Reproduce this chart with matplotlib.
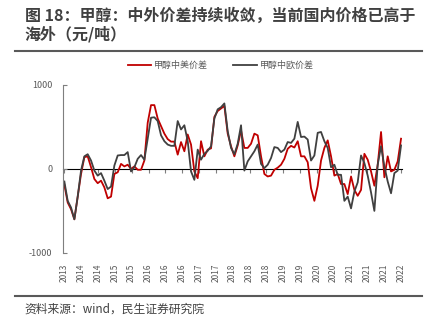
import numpy as np
import matplotlib.pyplot as plt
from matplotlib.lines import Line2D

plt.rcParams['font.family'] = ['Noto Sans CJK SC', 'DejaVu Sans']

## data (元/吨)
us_spread = [
    -190, -400, -480, -600, -330, -60, 140, 150, 20, -120,
    -170, -140, -220, -350, -330, -60, -40, 60, 30, 50,
    0, 30, -10, -10, 100, 550, 760, 760, 600, 510,
    420, 355, 325, 325, 170, 320, 210, 410, 290, -30,
    -110, 330, 150, 230, 245,
    620, 690, 720, 750, 420, 270, 150, 280, 460, 250,
    250, 300, 420, 400, 150, -60, -90, -80, -10, 15,
    50, 120, 240, 275, 255, 330, 150, 150, 80, -230,
    -380, -200, 100, 250, 340, 150, -80, -60, -180, -180,
    -300, -90, -250, -320, -250, 180, 110, -30, -200, 50,
    440, -100, 150, -30, -10, 90, 360,
]
eu_spread = [
    -150, -380, -460, -600, -330, -20, 150, 175, 100, -20,
    -80, -50, -140, -240, -210, 40, 160, 165, 165, 200,
    -30, 20, 120, 165, 110, 360, 610, 615, 570, 400,
    330, 290, 275, 275, 570, 470, 520, 330, -30, -130,
    230, 110, 180, 215, 270,
    600, 710, 735, 780, 450, 250, 175, 300, 520, -20,
    90, 150, 210, 290, 60, 10, 50, 130, 260, 250,
    200, 230, 320, 310, 360, 560, 380, 385, 350, 100,
    160, 430, 440, 330, 250, 20, 50, -70, -70, -380,
    -330, -470, -270, -160, 160, 70, -80, -280, -500, 50,
    270, 30, -150, -290, -50, -20, 280,
]
tick_labels = ['2013', '2014', '2014', '2015', '2015', '2016', '2016', '2016',
               '2017', '2017', '2018', '2018', '2018', '2019', '2019', '2020',
               '2020', '2021', '2021', '2021', '2022']

red = '#C00000'
dark = '#404040'
axis_grey = '#7f7f7f'

fig = plt.figure(figsize=(4.37, 3.28), dpi=100)
ax = fig.add_axes([0.145, 0.229, 0.775, 0.512])

x = np.arange(len(us_spread))
ax.plot(x, us_spread, color=red, lw=1.3, label='甲醇中美价差')
ax.plot(x, eu_spread, color=dark, lw=1.3, label='甲醇中欧价差')

ax.set_ylim(-1000, 1000)
ax.set_xlim(-0.3, len(x) - 1 + 0.3)
ax.set_yticks([-1000, 0, 1000])
ax.set_yticklabels(['-1000', '0', '1000'])

ticks = np.linspace(0, len(x) - 1, len(tick_labels))
ax.set_xticks(ticks)
ax.set_xticklabels(tick_labels, rotation=90)

for s in ['top', 'right', 'bottom']:
    ax.spines[s].set_visible(False)
ax.spines['left'].set_color(axis_grey)
ax.spines['left'].set_linewidth(0.8)
ax.tick_params(axis='y', direction='in', length=3, color=axis_grey,
               labelsize=6.5, labelcolor='#595959', pad=8)
ax.tick_params(axis='x', length=0, labelsize=6, labelcolor='#595959', pad=8)

# zero line with its own ticks
sec = ax.secondary_xaxis(0.5)
sec.set_xticks(ticks)
sec.set_xticklabels([])
sec.spines['bottom'].set_color(axis_grey)
sec.spines['bottom'].set_linewidth(0.8)
sec.tick_params(direction='in', length=3, color=axis_grey)

handles = [Line2D([0], [0], color=red, lw=1.3), Line2D([0], [0], color=dark, lw=1.3)]
fig.legend(handles, ['甲醇中美价差', '甲醇中欧价差'], loc='center', ncol=2,
           bbox_to_anchor=(0.505, 0.8), frameon=False, fontsize=6.5,
           handlelength=2.6, handletextpad=0.3, columnspacing=2.8,
           labelcolor='#595959')

# title, rules and source
fig.text(0.057, 0.978, '图 18：甲醇：中外价差持续收敛，当前国内价格已高于\n海外（元/吨）',
         ha='left', va='top', fontsize=11.5, fontweight='bold', color=dark,
         linespacing=1.15)
fig.add_artist(Line2D([0.034, 0.966], [0.845, 0.845], color='#595959', lw=1.5))
fig.add_artist(Line2D([0.034, 0.966], [0.098, 0.098], color='#595959', lw=1.5))
fig.text(0.057, 0.058, '资料来源：wind，民生证券研究院', ha='left', va='center',
         fontsize=8.5, color=dark)

fig.savefig('out.png', dpi=100)
